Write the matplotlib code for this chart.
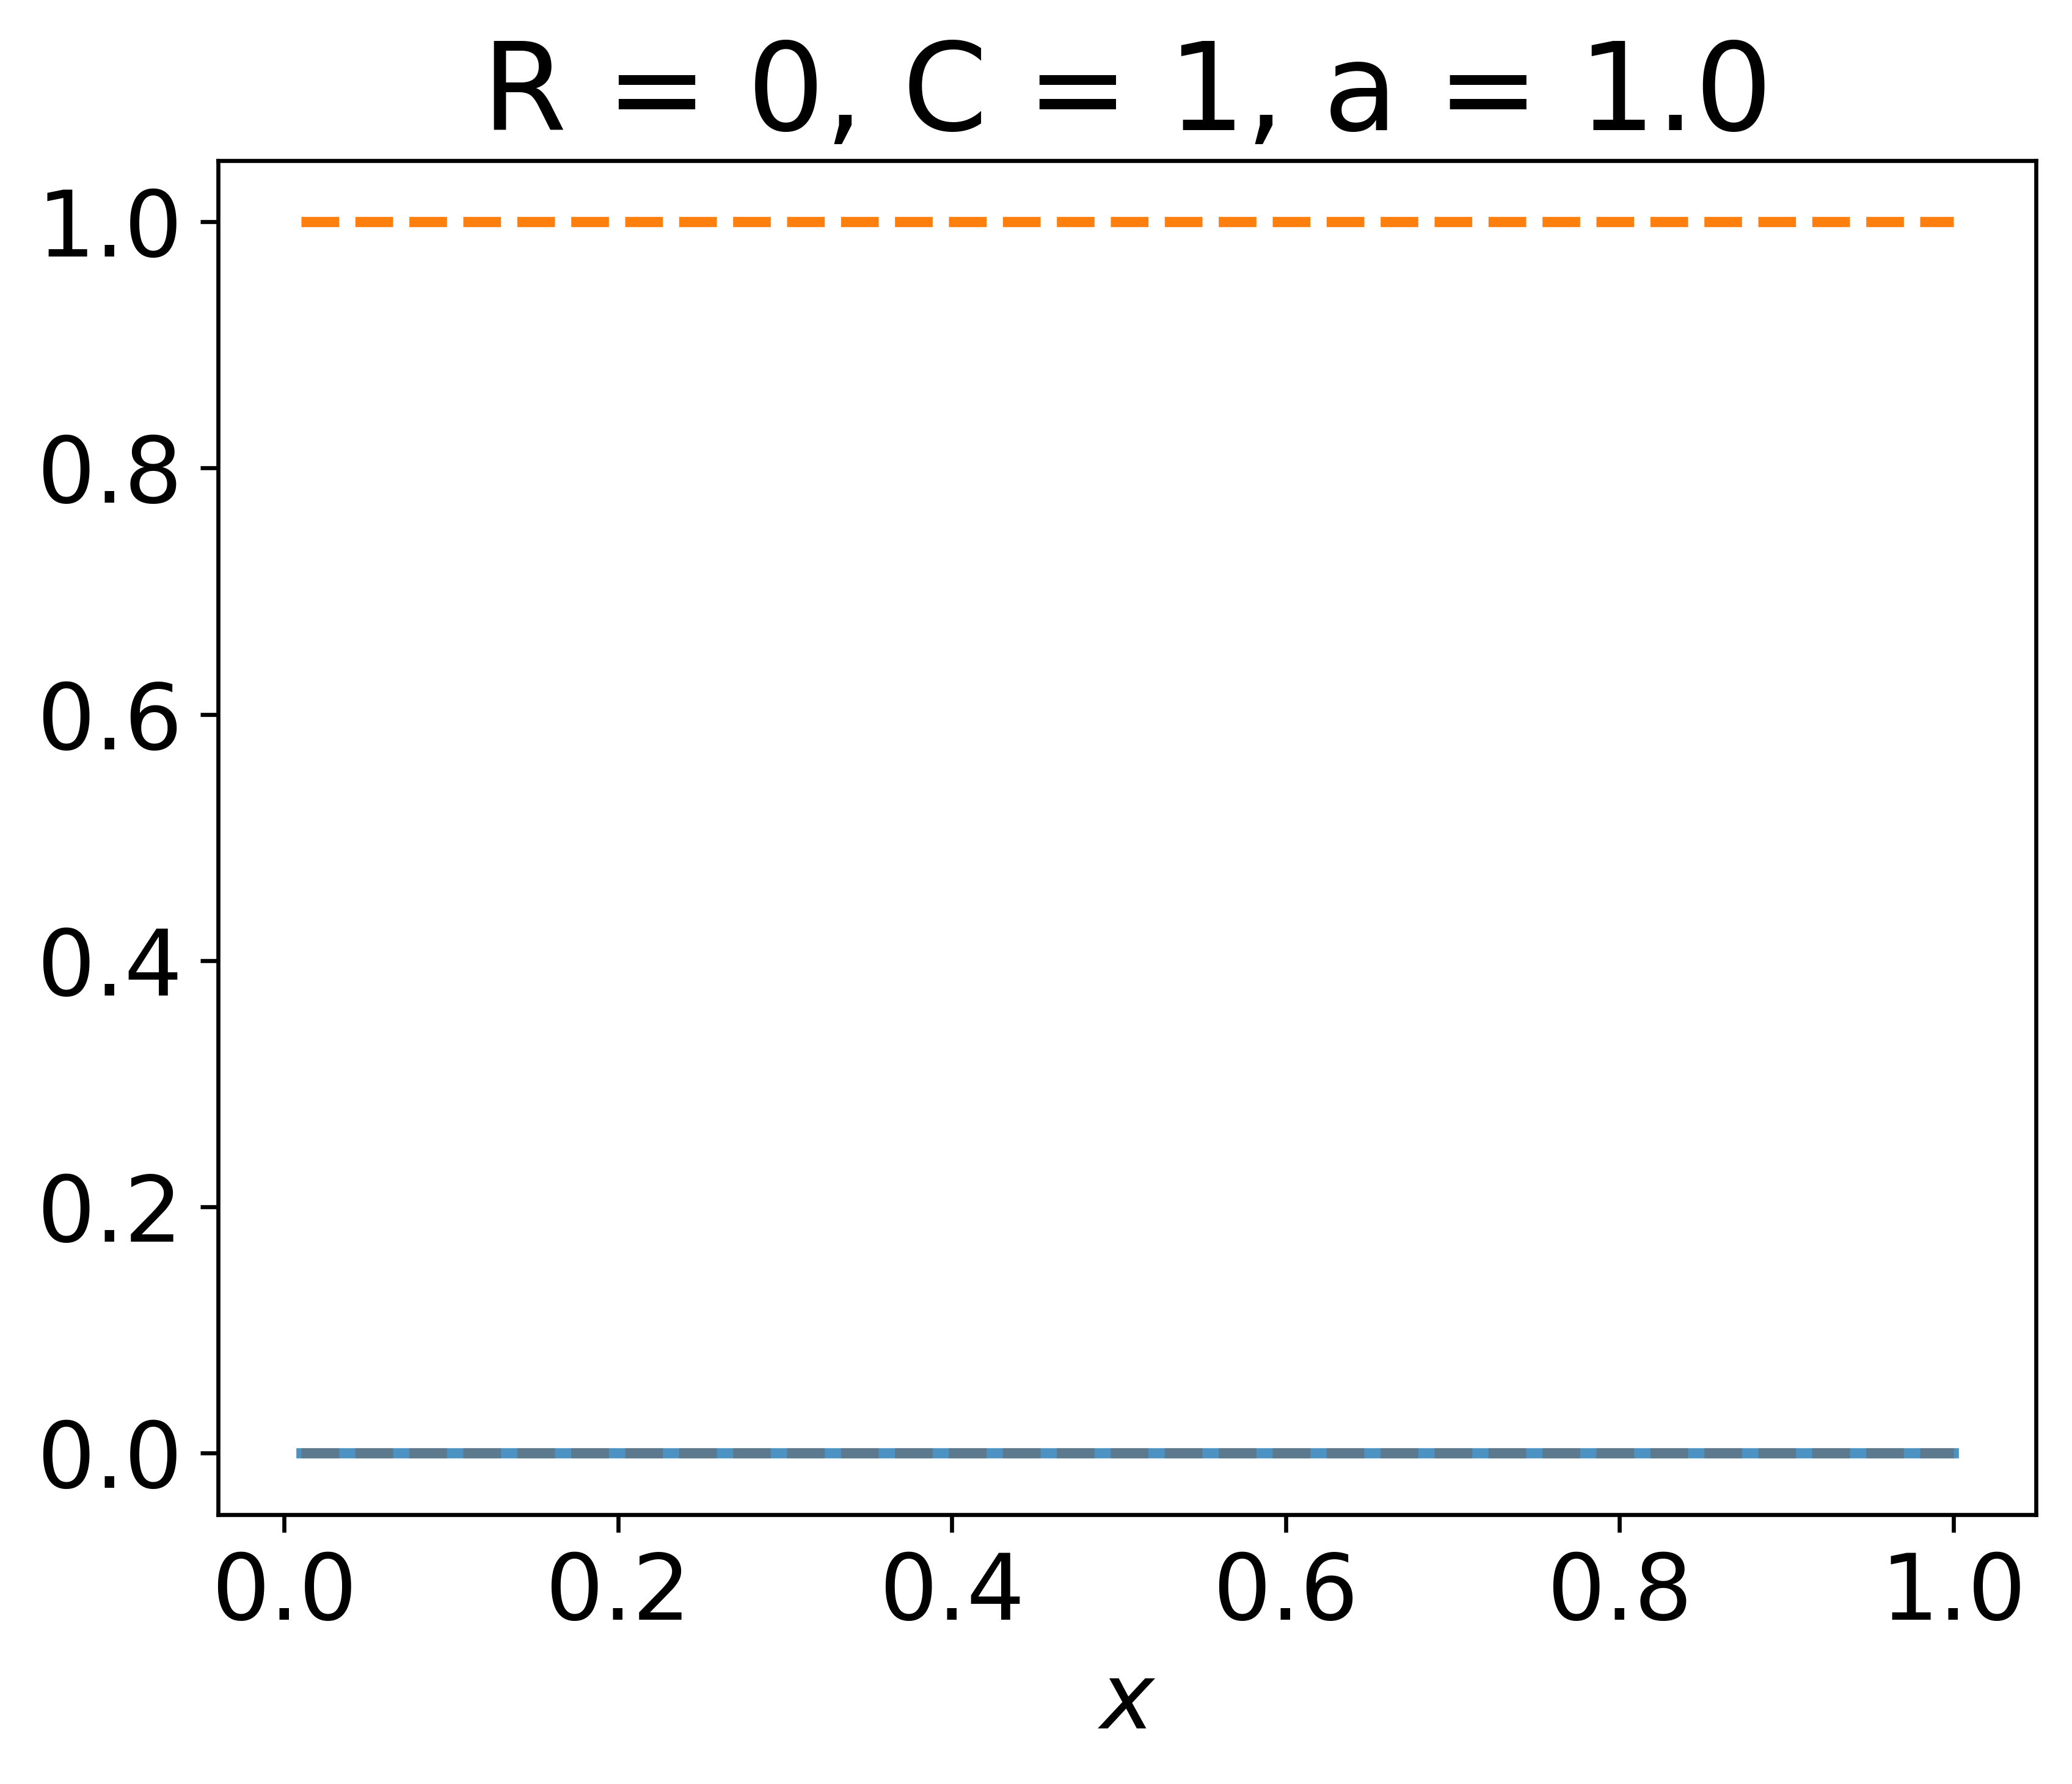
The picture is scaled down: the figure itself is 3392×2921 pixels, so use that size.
import matplotlib
matplotlib.use("Agg")
import matplotlib.pyplot as plt

# Data
x_vals = [0.01, 1.0]
y_exact = [0.0, 0.0]        # solid blue
y_approx = [0.0, 0.0]       # dashed gray over blue
y_upper = [1.0, 1.0]        # dashed orange
title_text = "R = 0, C = 1, a = 1.0"
xlabel_text = "$x$"

fig = plt.figure(figsize=(3392 / 600, 2921 / 600), dpi=600)
ax = fig.add_axes([0.10534, 0.15108, 0.98261 - 0.10534, 0.91013 - 0.15108])

ax.plot(x_vals, y_exact, color="C0", lw=2, alpha=0.8)
ax.plot(x_vals, y_upper, color="C1", lw=2, linestyle="--")
ax.plot(x_vals, y_approx, color="dimgray", lw=2, alpha=0.6, linestyle="--")

ax.set_title(title_text, fontsize=24)
ax.set_xlabel(xlabel_text, fontsize=18)
ax.tick_params(labelsize=18)
ax.set_xticks([0.0, 0.2, 0.4, 0.6, 0.8, 1.0])
ax.set_yticks([0.0, 0.2, 0.4, 0.6, 0.8, 1.0])

fig.savefig("out.png", dpi=600)
